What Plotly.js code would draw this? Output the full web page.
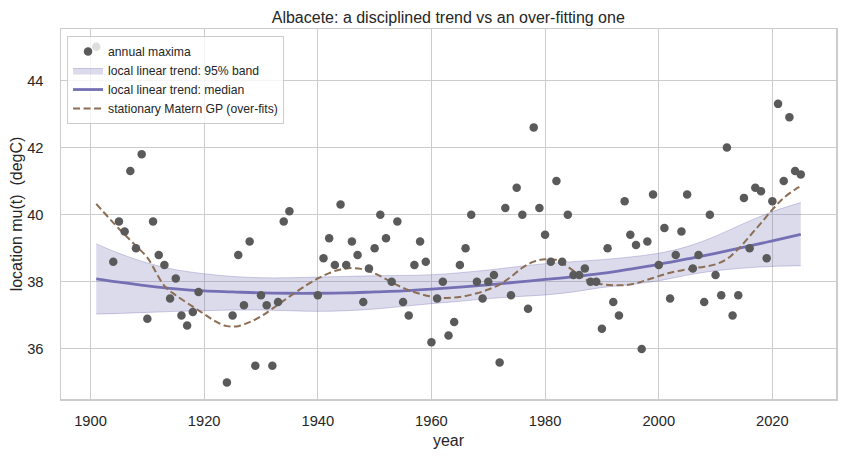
<!DOCTYPE html>
<html>
<head>
<meta charset="utf-8">
<script src="https://cdn.plot.ly/plotly-3.0.1.min.js"></script>
<style>
  html, body { margin: 0; padding: 0; background: #ffffff; }
  #chart { width: 845px; height: 457px; }
</style>
</head>
<body>
<div id="chart"></div>
<script>
// Annual maximum temperature, Albacete
const years = [1901, 1904, 1905, 1906, 1907, 1908, 1909, 1910, 1911, 1912, 1913, 1914, 1915, 1916, 1917, 1918, 1919,
  1924, 1925, 1926, 1927, 1928, 1929, 1930, 1931, 1932, 1933, 1934, 1935,
  1940, 1941, 1942, 1943, 1944, 1945, 1946, 1947, 1948, 1949, 1950, 1951, 1952, 1953, 1954, 1955, 1956, 1957, 1958, 1959,
  1960, 1961, 1962, 1963, 1964, 1965, 1966, 1967, 1968, 1969, 1970, 1971, 1972, 1973, 1974, 1975, 1976, 1977, 1978, 1979,
  1980, 1981, 1982, 1983, 1984, 1985, 1986, 1987, 1988, 1989, 1990, 1991, 1992, 1993, 1994, 1995, 1996, 1997, 1998, 1999,
  2000, 2001, 2002, 2003, 2004, 2005, 2006, 2007, 2008, 2009, 2010, 2011, 2012, 2013, 2014, 2015, 2016, 2017, 2018, 2019,
  2020, 2021, 2022, 2023, 2024, 2025];
const maxima = [45.0, 38.6, 39.8, 39.5, 41.3, 39.0, 41.8, 36.9, 39.8, 38.8, 38.5, 37.5, 38.1, 37.0, 36.7, 37.1, 37.7,
  35.0, 37.0, 38.8, 37.3, 39.2, 35.5, 37.6, 37.3, 35.5, 37.4, 39.8, 40.1,
  37.6, 38.7, 39.3, 38.5, 40.3, 38.5, 39.2, 38.8, 37.4, 38.4, 39.0, 40.0, 39.3, 38.0, 39.8, 37.4, 37.0, 38.5, 39.2, 38.6,
  36.2, 37.5, 38.0, 36.4, 36.8, 38.5, 39.0, 40.0, 38.0, 37.5, 38.0, 38.2, 35.6, 40.2, 37.6, 40.8, 40.0, 37.2, 42.6, 40.2,
  39.4, 38.6, 41.0, 38.6, 40.0, 38.2, 38.2, 38.4, 38.0, 38.0, 36.6, 39.0, 37.4, 37.0, 40.4, 39.4, 39.1, 36.0, 39.2, 40.6,
  38.5, 39.6, 37.5, 38.8, 39.5, 40.6, 38.4, 38.8, 37.4, 40.0, 38.2, 37.6, 42.0, 37.0, 37.6, 40.5, 39.0, 40.8, 40.7, 38.7,
  40.4, 43.3, 41.0, 42.9, 41.3, 41.2];

// Local linear trend posterior (median and 95% band)
const trendYears = [1901, 1905, 1910, 1915, 1920, 1925, 1930, 1935, 1940, 1945, 1950, 1955, 1960,
  1965, 1970, 1975, 1980, 1985, 1990, 1995, 2000, 2005, 2010, 2015, 2020, 2025];
const trendMedian = [38.09, 37.99, 37.88, 37.79, 37.73, 37.70, 37.67, 37.66, 37.66, 37.67, 37.70, 37.73, 37.78,
  37.84, 37.91, 37.99, 38.07, 38.15, 38.25, 38.38, 38.52, 38.68, 38.85, 39.03, 39.22, 39.41];
const trendUpper = [39.13, 38.85, 38.56, 38.36, 38.24, 38.16, 38.12, 38.12, 38.14, 38.16, 38.18, 38.19, 38.21,
  38.27, 38.35, 38.45, 38.54, 38.60, 38.66, 38.74, 38.85, 39.05, 39.36, 39.74, 40.09, 40.36];
const trendLower = [37.04, 37.06, 37.09, 37.12, 37.14, 37.16, 37.16, 37.14, 37.12, 37.14, 37.19, 37.27, 37.35,
  37.42, 37.50, 37.56, 37.61, 37.70, 37.83, 37.92, 38.03, 38.20, 38.33, 38.41, 38.46, 38.48];

// Stationary Matern GP fit
const gpYears = [1901, 1905, 1908, 1910, 1913, 1915, 1918, 1920, 1922, 1924, 1926, 1928, 1930, 1932, 1935, 1938,
  1940, 1942, 1944, 1946, 1948, 1950, 1952, 1954, 1956, 1958, 1960, 1962, 1964, 1966, 1968, 1970, 1972, 1974,
  1976, 1978, 1980, 1982, 1984, 1986, 1988, 1990, 1992, 1994, 1996, 1998, 2000, 2002, 2004, 2006, 2008, 2010,
  2012, 2014, 2016, 2018, 2020, 2022, 2024, 2025];
const gpMean = [40.32, 39.58, 39.07, 38.72, 37.88, 37.60, 37.26, 37.04, 36.82, 36.68, 36.68, 36.80, 36.97, 37.20,
  37.56, 37.90, 38.10, 38.26, 38.37, 38.41, 38.37, 38.25, 38.08, 37.90, 37.75, 37.64, 37.56, 37.52, 37.53, 37.58,
  37.66, 37.77, 37.92, 38.15, 38.42, 38.60, 38.67, 38.65, 38.45, 38.20, 38.00, 37.93, 37.90, 37.90, 37.96, 38.06,
  38.17, 38.27, 38.34, 38.40, 38.45, 38.52, 38.68, 38.98, 39.36, 39.75, 40.15, 40.50, 40.75, 40.85];

const PURPLE = '#7570b3';
const BROWN = '#8c6e54';
const TEXT = '#262626';
const GRID = '#cccccc';
const FONT = '"Liberation Sans", Arial, Helvetica, sans-serif';

const traces = [
  {
    x: trendYears, y: trendLower, type: 'scatter', mode: 'lines',
    line: {color: 'rgba(117,112,179,0.35)', width: 1, shape: 'spline'},
    showlegend: false, hoverinfo: 'skip'
  },
  {
    x: trendYears, y: trendUpper, type: 'scatter', mode: 'lines',
    fill: 'tonexty', fillcolor: 'rgba(117,112,179,0.25)',
    line: {color: 'rgba(117,112,179,0.35)', width: 1, shape: 'spline'},
    name: 'local linear trend: 95% band', legendrank: 2
  },
  {
    x: trendYears, y: trendMedian, type: 'scatter', mode: 'lines',
    line: {color: PURPLE, width: 2.8, shape: 'spline'},
    name: 'local linear trend: median', legendrank: 3
  },
  {
    x: gpYears, y: gpMean, type: 'scatter', mode: 'lines',
    line: {color: BROWN, width: 2, dash: '7px,3.5px', shape: 'spline'},
    name: 'stationary Matern GP (over-fits)', legendrank: 4
  },
  {
    x: years, y: maxima, type: 'scatter', mode: 'markers',
    marker: {color: '#5a5a5a', size: 8.5, line: {width: 0}},
    name: 'annual maxima', legendrank: 1
  }
];

const layout = {
  width: 845, height: 457,
  margin: {l: 61, r: 9, t: 29, b: 58, pad: 0},
  paper_bgcolor: '#ffffff', plot_bgcolor: '#ffffff',
  font: {family: FONT, color: TEXT, size: 14.7},
  title: {
    text: 'Albacete: a disciplined trend vs an over-fitting one',
    font: {family: FONT, size: 16, color: TEXT},
    x: 0.5305, xanchor: 'center', y: 0.962, yanchor: 'middle'
  },
  xaxis: {
    range: [1894.8, 2031.2],
    tickvals: [1900, 1920, 1940, 1960, 1980, 2000, 2020],
    ticks: '', showgrid: true, gridcolor: GRID, gridwidth: 1,
    zeroline: false, showline: true, mirror: true, linecolor: GRID, linewidth: 1.5,
    tickfont: {family: FONT, size: 14.7, color: TEXT},
    ticklabelstandoff: 8,
    title: {text: 'year', font: {family: FONT, size: 16, color: TEXT}, standoff: 6}
  },
  yaxis: {
    range: [34.51, 45.53],
    tickvals: [36, 38, 40, 42, 44],
    ticks: '', showgrid: true, gridcolor: GRID, gridwidth: 1,
    zeroline: false, showline: true, mirror: true, linecolor: GRID, linewidth: 1.5,
    tickfont: {family: FONT, size: 14.7, color: TEXT},
    ticklabelstandoff: 13,
    title: {text: 'location mu(t)\u00a0\u00a0(degC)', font: {family: FONT, size: 16, color: TEXT}, standoff: 0}
  },
  legend: {
    x: 0.0078, y: 0.981, xanchor: 'left', yanchor: 'top',
    bgcolor: 'rgba(255,255,255,0.8)', bordercolor: GRID, borderwidth: 1,
    font: {family: FONT, size: 12.2, color: TEXT},
    traceorder: 'normal'
  },
  showlegend: true
};

Plotly.newPlot('chart', traces, layout, {displayModeBar: false, staticPlot: true});
</script>
</body>
</html>
